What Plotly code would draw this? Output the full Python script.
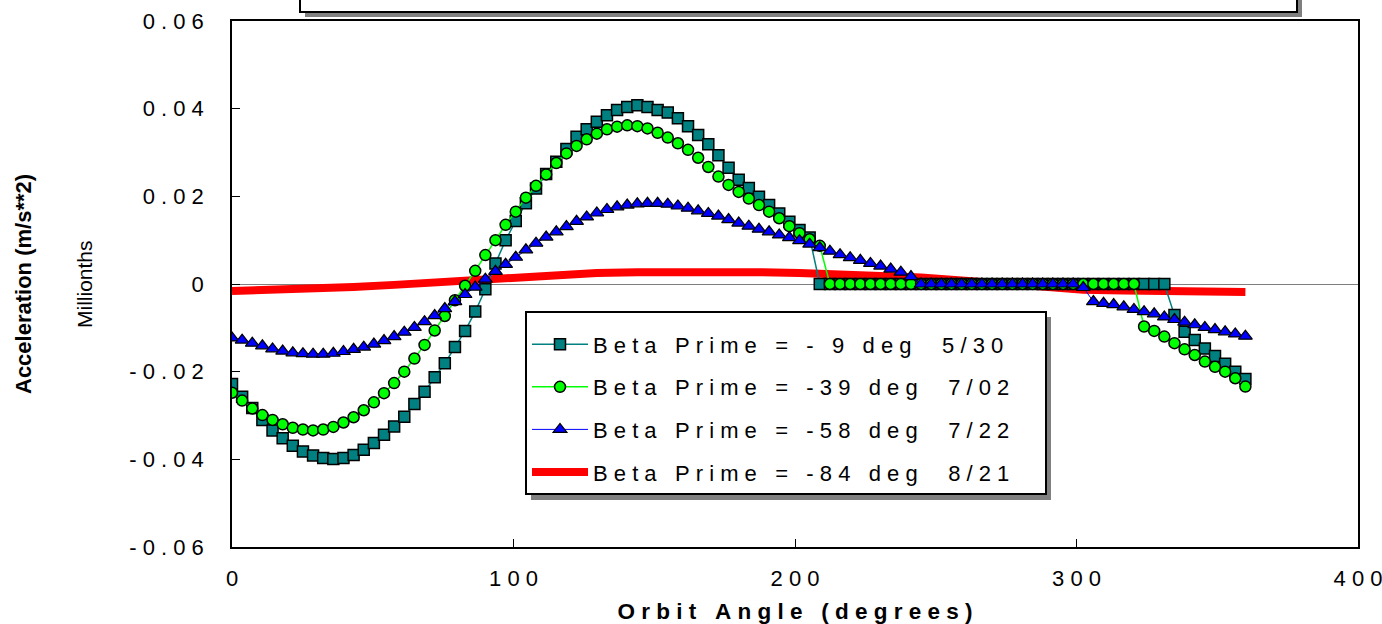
import plotly.graph_objects as go

NB = "\u00a0"

def spaced(s):
    return NB.join(ch if ch != " " else NB for ch in s)

# ---------------- data ----------------
angle = [0, 3.6, 7.2, 10.8, 14.4, 18, 21.6, 25.2, 28.8, 32.4,
         36, 39.6, 43.2, 46.8, 50.4, 54, 57.6, 61.2, 64.8, 68.4,
         72, 75.6, 79.2, 82.8, 86.4, 90, 93.6, 97.2, 100.8, 104.4,
         108, 111.6, 115.2, 118.8, 122.4, 126, 129.6, 133.2, 136.8, 140.4,
         144, 147.6, 151.2, 154.8, 158.4, 162, 165.6, 169.2, 172.8, 176.4,
         180, 183.6, 187.2, 190.8, 194.4, 198, 201.6, 205.2, 208.8, 212.4,
         216, 219.6, 223.2, 226.8, 230.4, 234, 237.6, 241.2, 244.8, 248.4,
         252, 255.6, 259.2, 262.8, 266.4, 270, 273.6, 277.2, 280.8, 284.4,
         288, 291.6, 295.2, 298.8, 302.4, 306, 309.6, 313.2, 316.8, 320.4,
         324, 327.6, 331.2, 334.8, 338.4, 342, 345.6, 349.2, 352.8, 356.4,
         360]

beta_m9 = [-0.0228, -0.0257, -0.0283, -0.0310, -0.0334, -0.0352, -0.0369, -0.0382, -0.0391, -0.0397,
           -0.0399, -0.0397, -0.0390, -0.0378, -0.0363, -0.0344, -0.0325, -0.0303, -0.0274, -0.0246,
           -0.0213, -0.0181, -0.0144, -0.0107, -0.0063, -0.0012, 0.0047, 0.0100, 0.0144, 0.0184,
           0.0218, 0.0251, 0.0279, 0.0308, 0.0336, 0.0353, 0.0370, 0.0385, 0.0397, 0.0404,
           0.0408, 0.0404, 0.0397, 0.0391, 0.0378, 0.0360, 0.0340, 0.0319, 0.0294, 0.0265,
           0.0238, 0.0219, 0.0199, 0.0180, 0.0161, 0.0142, 0.0123, 0.0106, 0, 0,
           0, 0, 0, 0, 0, 0, 0, 0, 0, 0,
           0, 0, 0, 0, 0, 0, 0, 0, 0, 0,
           0, 0, 0, 0, 0, 0, 0, 0, 0, 0,
           0, 0, 0, -0.0071, -0.0109, -0.0128, -0.0147, -0.0164, -0.0182, -0.0200,
           -0.0217]

beta_m39 = [-0.0248, -0.0266, -0.0284, -0.0299, -0.0310, -0.0320, -0.0328, -0.0332, -0.0334, -0.0332,
            -0.0326, -0.0316, -0.0304, -0.0288, -0.0270, -0.0249, -0.0226, -0.0200, -0.0170, -0.0139,
            -0.0106, -0.0073, -0.0037, -0.0004, 0.0030, 0.0066, 0.0100, 0.0135, 0.0165, 0.0197,
            0.0224, 0.0250, 0.0276, 0.0298, 0.0315, 0.0330, 0.0343, 0.0353, 0.0359, 0.0362,
            0.0360, 0.0355, 0.0345, 0.0334, 0.0321, 0.0306, 0.0288, 0.0267, 0.0245, 0.0226,
            0.0210, 0.0195, 0.0180, 0.0165, 0.0150, 0.0132, 0.0116, 0.0102, 0.0087, 0,
            0, 0, 0, 0, 0, 0, 0, 0, 0, 0,
            0, 0, 0, 0, 0, 0, 0, 0, 0, 0,
            0, 0, 0, 0, 0, 0, 0, 0, 0, 0,
            -0.0097, -0.0107, -0.0120, -0.0135, -0.0149, -0.0162, -0.0177, -0.0189, -0.0200, -0.0215,
            -0.0234]

beta_m58 = [-0.0123, -0.0128, -0.0135, -0.0141, -0.0148, -0.0153, -0.0157, -0.0159, -0.0160, -0.0160,
            -0.0158, -0.0154, -0.0149, -0.0144, -0.0137, -0.0129, -0.0120, -0.0110, -0.0099, -0.0086,
            -0.0072, -0.0056, -0.0040, -0.0024, -0.0007, 0.0011, 0.0029, 0.0045, 0.0061, 0.0078,
            0.0093, 0.0107, 0.0119, 0.0131, 0.0143, 0.0153, 0.0162, 0.0170, 0.0176, 0.0180,
            0.0183, 0.0184, 0.0184, 0.0182, 0.0178, 0.0173, 0.0167, 0.0161, 0.0155, 0.0147,
            0.0139, 0.0132, 0.0125, 0.0119, 0.0112, 0.0106, 0.0099, 0.0091, 0.0083, 0.0075,
            0.0067, 0.0060, 0.0054, 0.0047, 0.0041, 0.0034, 0.0027, 0.0017, 0, 0,
            0, 0, 0, 0, 0, 0, 0, 0, 0, 0,
            0, 0, 0, 0, -0.0008, -0.0040, -0.0044, -0.0047, -0.0052, -0.0058,
            -0.0063, -0.0068, -0.0075, -0.0081, -0.0087, -0.0093, -0.0099, -0.0104, -0.0109, -0.0114,
            -0.0119]

red_angle = [0, 14.4, 28.8, 43.2, 57.6, 72, 86.4, 100.8, 115.2, 129.6,
             144, 158.4, 172.8, 187.2, 201.6, 216, 230.4, 244.8, 259.2, 273.6,
             288, 302.4, 316.8, 331.2, 345.6, 360]
beta_m84 = [-0.0016, -0.0014, -0.0011, -0.0007, -0.0002, 0.0004, 0.0010, 0.0016, 0.0021, 0.0025,
            0.0027, 0.0028, 0.0028, 0.0027, 0.0025, 0.0022, 0.0019, 0.0015, 0.0008, 0.0000,
            -0.0008, -0.0013, -0.0015, -0.0016, -0.0017, -0.0018]

series_names = ["Beta Prime = - 9 deg  5/30",
                "Beta Prime = -39 deg  7/02",
                "Beta Prime = -58 deg  7/22",
                "Beta Prime = -84 deg  8/21"]

x_tickvals = [0, 100, 200, 300, 400]
x_ticktext = ["0", "100", "200", "300", "400"]
y_tickvals = [-0.06, -0.04, -0.02, 0, 0.02, 0.04, 0.06]
y_ticktext = ["-0.06", "-0.04", "-0.02", "0", "0.02", "0.04", "0.06"]

x_title = "Orbit Angle (degrees)"
y_title = "Acceleration (m/s**2)"
y_subtitle = "Millionths"

# ---------------- figure ----------------
FONT = "Arial, 'Liberation Sans', sans-serif"
W, H = 1382, 624
ML, MR, MT, MB = 232, 24, 21, 77
PW, PH = W - ML - MR, H - MT - MB

def px(xp):
    return (xp - ML) / PW

def py(yp):
    return (H - MB - yp) / PH

TRAIL = NB * 5

fig = go.Figure()

# red drawn first (lowest), legend order fixed via legendrank
fig.add_trace(go.Scatter(
    x=red_angle, y=beta_m84, mode="lines", name=spaced(series_names[3]) + TRAIL,
    line=dict(color="#ff0000", width=8), legendrank=4, legendgroup="d"))
fig.add_trace(go.Scatter(
    x=angle, y=beta_m9, mode="lines+markers", name=spaced(series_names[0]) + TRAIL,
    line=dict(color="#008080", width=1.5),
    marker=dict(symbol="square", size=11, color="#008080", line=dict(color="black", width=1.5)),
    legendrank=1, legendgroup="a"))
fig.add_trace(go.Scatter(
    x=angle, y=beta_m39, mode="lines+markers", name=spaced(series_names[1]) + TRAIL,
    line=dict(color="#00ff00", width=1.5),
    marker=dict(symbol="circle", size=11, color="#00ff00", line=dict(color="black", width=1.5)),
    legendrank=2, legendgroup="b"))
fig.add_trace(go.Scatter(
    x=angle, y=beta_m58, mode="lines+markers", name=spaced(series_names[2]) + TRAIL,
    line=dict(color="#0000ff", width=1),
    marker=dict(symbol="triangle-up", size=12, color="#0000ff", line=dict(color="black", width=1.2)),
    legendrank=3, legendgroup="c"))

axis_common = dict(showgrid=False, ticks="inside", ticklen=8, tickwidth=1.2, tickcolor="black",
                   showline=True, linecolor="black", linewidth=1.5, mirror=True, automargin=False,
                   tickfont=dict(family=FONT, size=22, color="black"))

fig.update_xaxes(range=[0, 400], tickvals=x_tickvals, ticktext=[spaced(t) for t in x_ticktext],
                 zeroline=False, ticklabelstandoff=11, ticklabeloverflow="allow",
                 title=dict(text="<b>" + spaced(x_title) + "</b>", standoff=20,
                            font=dict(family=FONT, size=22.5, color="black")),
                 **axis_common)
fig.update_yaxes(range=[-0.06, 0.06], tickvals=y_tickvals, ticktext=[spaced(t) for t in y_ticktext],
                 zeroline=True, zerolinecolor="#7f7f7f", zerolinewidth=1, ticklabelstandoff=22,
                 **axis_common)

shapes = [
    # title box (mostly above the visible page) with shadow
    dict(type="rect", xref="paper", yref="paper", x0=px(305), x1=px(1302), y0=py(17), y1=py(-60),
         fillcolor="#808080", line=dict(width=0), layer="above"),
    dict(type="rect", xref="paper", yref="paper", x0=px(300), x1=px(1297), y0=py(12), y1=py(-65),
         fillcolor="white", line=dict(color="black", width=2), layer="above"),
    # legend shadow
    dict(type="rect", xref="paper", yref="paper", x0=px(531), x1=px(1051), y0=py(500), y1=py(317),
         fillcolor="#808080", line=dict(width=0), layer="above"),
]

annotations = [
    dict(text="<b>" + y_title + "</b>", xref="paper", yref="paper", x=px(23), y=0.5,
         xanchor="center", yanchor="middle", textangle=-90, showarrow=False,
         font=dict(family=FONT, size=22, color="black")),
    dict(text=y_subtitle, xref="paper", yref="paper", x=px(84), y=0.5,
         xanchor="center", yanchor="middle", textangle=-90, showarrow=False,
         font=dict(family=FONT, size=21, color="black")),
]

fig.update_layout(
    width=W, height=H, margin=dict(l=ML, r=MR, t=MT, b=MB, pad=0, autoexpand=False),
    paper_bgcolor="white", plot_bgcolor="white",
    font=dict(family=FONT, color="black"),
    shapes=shapes, annotations=annotations,
    showlegend=True,
    legend=dict(x=px(525), y=py(311), xanchor="left", yanchor="top",
                bgcolor="white", bordercolor="black", borderwidth=2,
                font=dict(family=FONT, size=22, color="black"),
                title=dict(text=NB, font=dict(size=8)),
                itemwidth=56, tracegroupgap=11, traceorder="grouped"),
)

fig.write_html("out.html", config={"displayModeBar": False},
               post_script="document.body.style.margin='0';")
